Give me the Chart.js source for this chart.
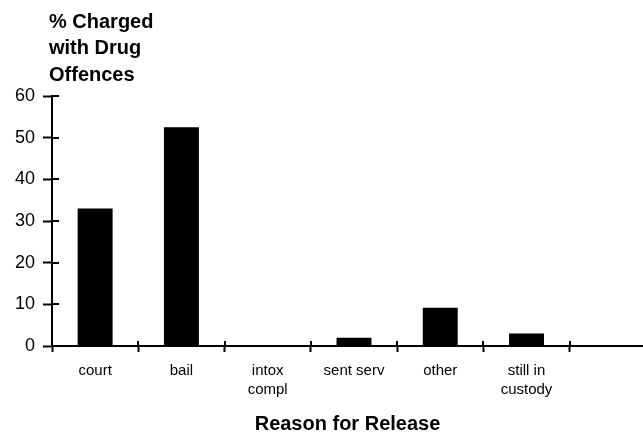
<!DOCTYPE html>
<html>
<head>
<meta charset="utf-8">
<script src="https://cdn.jsdelivr.net/npm/chart.js@4"></script>
<style>
  html, body { margin: 0; padding: 0; background: #fff; }
  #wrap { width: 643px; height: 434px; }
</style>
</head>
<body>
<div id="wrap"><canvas id="c" width="643" height="434"></canvas></div>
<script>
// Release reasons (line breaks mark the wrapped labels)
const categories = ['court', 'bail', 'intox\ncompl', 'sent serv', 'other', 'still in\ncustody'];
// Percent of people charged with drug offences, per release reason
const percentCharged = [33, 52.5, 0, 2, 9.2, 3];
// Value axis ticks
const yTicks = [0, 10, 20, 30, 40, 50, 60];
const yTitleLines = ['% Charged', 'with Drug', 'Offences'];
const xTitle = 'Reason for Release';

const FONT = '"Liberation Sans", Arial, Helvetica, sans-serif';

// Tick values on the category axis: boundaries (x.5) carry the tick marks,
// centres (integers) carry the labels.
const xTickValues = [];
for (let i = 0; i < categories.length; i++) {
  xTickValues.push(i - 0.5, i);
}
xTickValues.push(categories.length - 0.5);

// Axis title stacked above the value axis
const cornerTitle = {
  id: 'cornerTitle',
  afterDraw(chart) {
    const ctx = chart.ctx;
    const left = chart.chartArea.left;
    ctx.save();
    ctx.font = 'bold 20px ' + FONT;
    ctx.fillStyle = '#000';
    ctx.textAlign = 'left';
    ctx.textBaseline = 'middle';
    yTitleLines.forEach((t, i) => ctx.fillText(t, left - 3, 22 + i * 26.7));
    ctx.restore();
  }
};

// Tick marks that cross the axis lines (the inner half)
const innerTicks = {
  id: 'innerTicks',
  afterDraw(chart) {
    const { ctx, chartArea, scales } = chart;
    ctx.save();
    ctx.strokeStyle = '#000';
    ctx.lineWidth = 2;
    ctx.beginPath();
    scales.x.ticks.forEach(t => {
      if (!Number.isInteger(t.value)) {
        const px = Math.round(scales.x.getPixelForValue(t.value));
        ctx.moveTo(px, chartArea.bottom);
        ctx.lineTo(px, chartArea.bottom - 5);
      }
    });
    scales.y.ticks.forEach(t => {
      const py = Math.round(scales.y.getPixelForValue(t.value));
      ctx.moveTo(chartArea.left, py);
      ctx.lineTo(chartArea.left + 7, py);
    });
    ctx.stroke();
    ctx.restore();
  }
};

new Chart(document.getElementById('c'), {
  type: 'bar',
  data: {
    datasets: [{
      data: percentCharged.map((v, i) => ({ x: i, y: v })),
      backgroundColor: '#000',
      borderWidth: 0,
      categoryPercentage: 1,
      barPercentage: 0.81
    }]
  },
  options: {
    responsive: false,
    animation: false,
    devicePixelRatio: 1,
    layout: { padding: { top: 96, left: 0, right: 0, bottom: 0 } },
    plugins: { legend: { display: false }, tooltip: { enabled: false } },
    scales: {
      x: {
        type: 'linear',
        offset: false,
        min: -0.5,
        max: 6.35,
        afterBuildTicks: s => { s.ticks = xTickValues.map(v => ({ value: v })); },
        afterFit: s => { s.height = 88; },
        ticks: {
          autoSkip: false,
          maxRotation: 0,
          minRotation: 0,
          padding: 9,
          color: '#000',
          font: { family: FONT, size: 15, lineHeight: 1.3 },
          callback: v => (Number.isInteger(v) && categories[v] !== undefined) ? categories[v].split('\n') : ''
        },
        grid: {
          offset: false,
          drawOnChartArea: false,
          tickLength: 6,
          tickWidth: 2,
          tickColor: c => (c.tick && Number.isInteger(c.tick.value)) ? 'rgba(0,0,0,0)' : '#000'
        },
        border: { display: true, color: '#000', width: 2 },
        title: {
          display: true,
          text: xTitle,
          color: '#000',
          font: { family: FONT, size: 20, weight: 'bold', lineHeight: 1 },
          padding: { top: 0, bottom: 0 }
        }
      },
      y: {
        min: 0,
        max: 60,
        afterBuildTicks: s => { s.ticks = yTicks.map(v => ({ value: v })); },
        afterFit: s => { s.width = 52; },
        ticks: {
          padding: 8,
          color: '#000',
          font: { family: FONT, size: 18 }
        },
        grid: {
          drawOnChartArea: false,
          tickLength: 9,
          tickWidth: 2,
          tickColor: '#000'
        },
        border: { display: true, color: '#000', width: 2 }
      }
    }
  },
  plugins: [cornerTitle, innerTicks]
});
</script>
</body>
</html>
